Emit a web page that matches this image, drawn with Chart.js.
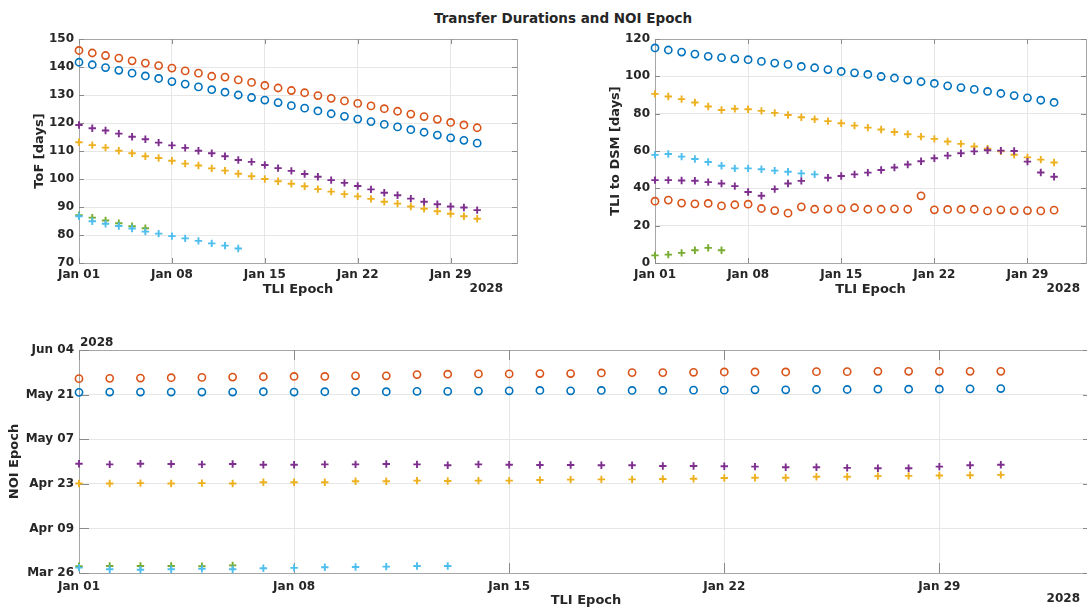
<!DOCTYPE html>
<html>
<head>
<meta charset="utf-8">
<script src="https://cdn.jsdelivr.net/npm/chart.js@4.4.1/dist/chart.umd.min.js"></script>
<style>
  html { overflow: hidden; }
  html, body { margin: 0; padding: 0; background: #fff; }
  body { width: 1120px; height: 608px; position: relative; }
  #titulo { position: absolute; left: 0; top: 10px; width: 1126px; text-align: center; font: bold 13.5px "DejaVu Sans", sans-serif; color: #262626; }
  .caja { position: absolute; }
</style>
</head>
<body>
<div id="titulo">Transfer Durations and NOI Epoch</div>
<div class="caja" style="left:0;top:0"><canvas id="graficoToF" width="530" height="310"></canvas></div>
<div class="caja" style="left:576px;top:0"><canvas id="graficoDSM" width="530" height="310"></canvas></div>
<div class="caja" style="left:0;top:300px"><canvas id="graficoNOI" width="1106" height="310"></canvas></div>
<script>
// TLI epoch, dias desde Jan 01 2028
var diasTLI = [0, 1, 2, 3, 4, 5, 6, 7, 8, 9, 10, 11, 12, 13, 14, 15, 16, 17, 18, 19, 20, 21, 22, 23, 24, 25, 26, 27, 28, 29, 30];
var ticksX = [0, 7, 14, 21, 28];
var etiquetasX = ["Jan 01", "Jan 08", "Jan 15", "Jan 22", "Jan 29"];
var anio = "2028";

// ToF [days]
var ticksToF = [70, 80, 90, 100, 110, 120, 130, 140, 150];
var tofAzul = [141.7, 140.8, 139.8, 138.8, 137.8, 136.8, 135.9, 134.8, 133.9, 132.9, 131.9, 131.0, 130.0, 129.1, 128.2, 127.3, 126.2, 125.3, 124.3, 123.3, 122.4, 121.4, 120.5, 119.5, 118.6, 117.6, 116.7, 115.7, 114.7, 113.8, 112.8];
var tofNaranja = [145.9, 145.0, 144.1, 143.2, 142.2, 141.4, 140.5, 139.6, 138.6, 137.8, 136.7, 136.4, 135.4, 134.5, 133.4, 132.5, 131.6, 130.8, 129.8, 128.8, 127.9, 127.0, 126.1, 125.1, 124.2, 123.2, 122.3, 121.3, 120.2, 119.3, 118.3];
var tofAmarillo = [113.1, 112.1, 111.2, 110.1, 109.2, 108.1, 107.5, 106.5, 105.5, 104.8, 103.8, 103.0, 101.9, 101.0, 100.0, 99.2, 98.3, 97.4, 96.4, 95.5, 94.6, 93.8, 92.9, 91.9, 91.2, 90.2, 89.4, 88.5, 87.6, 86.7, 85.8];
var tofMorado = [119.3, 118.1, 117.3, 116.2, 115.1, 114.2, 113.0, 112.0, 111.1, 110.1, 109.2, 108.1, 106.8, 106.1, 105.0, 103.9, 102.9, 101.8, 100.8, 99.6, 98.6, 97.5, 96.3, 95.1, 94.2, 93.0, 91.9, 91.0, 90.2, 89.8, 88.9];
var tofVerde = [87.1, 86.2, 85.2, 84.2, 83.1, 82.4];
var tofCeleste = [86.7, 84.9, 84.0, 83.2, 82.3, 81.2, 80.5, 79.6, 78.8, 77.9, 77.0, 76.2, 75.2];

// TLI to DSM [days]
var ticksDSM = [0, 20, 40, 60, 80, 100, 120];
var dsmAzul = [115.2, 114.1, 113.0, 111.9, 110.7, 110.0, 109.4, 108.9, 108.0, 107.1, 106.4, 105.3, 104.6, 103.6, 102.6, 101.9, 101.0, 99.9, 99.1, 98.0, 97.1, 96.2, 94.9, 94.0, 93.0, 91.9, 90.8, 89.7, 88.5, 87.2, 86.0];
var dsmNaranja = [33.1, 33.7, 32.1, 31.7, 31.9, 30.6, 31.2, 31.5, 29.2, 28.1, 26.7, 30.1, 28.8, 28.9, 29.0, 29.6, 28.8, 28.8, 29.0, 28.8, 36.0, 28.5, 28.7, 28.7, 28.8, 27.9, 28.5, 28.1, 28.1, 27.9, 28.3];
var dsmAmarillo = [90.6, 89.2, 87.8, 86.0, 83.8, 82.0, 82.6, 82.4, 81.5, 80.4, 79.3, 78.1, 77.0, 76.0, 74.9, 73.6, 72.5, 71.5, 70.2, 69.0, 67.7, 66.5, 65.1, 63.8, 62.4, 61.2, 59.8, 58.0, 56.6, 55.4, 53.8];
var dsmMorado = [44.4, 44.4, 44.2, 44.1, 43.3, 42.6, 41.2, 38.0, 36.0, 39.6, 42.6, 44.0, null, 45.7, 46.6, 47.5, 48.4, 49.8, 51.2, 52.8, 54.5, 56.1, 57.5, 58.8, 59.8, 60.4, 60.2, 60.0, 54.3, 48.5, 46.2];
var dsmVerde = [4.1, 4.5, 5.4, 6.8, 8.1, 6.8];
var dsmCeleste = [57.9, 58.4, 57.0, 55.7, 54.1, 52.1, 50.7, 50.7, 50.2, 49.5, 48.9, 48.0, 47.5];

// NOI epoch, dias desde Jan 01 2028
var ticksNOI = [85, 99, 113, 127, 141, 155];
var etiquetasNOI = ["Mar 26", "Apr 09", "Apr 23", "May 07", "May 21", "Jun 04"];
var noiAzul = [141.7, 141.8, 141.8, 141.8, 141.8, 141.8, 141.9, 141.8, 141.9, 141.9, 141.9, 142.0, 142.0, 142.1, 142.2, 142.3, 142.2, 142.3, 142.3, 142.3, 142.4, 142.4, 142.5, 142.5, 142.6, 142.6, 142.7, 142.7, 142.7, 142.8, 142.9];
var noiNaranja = [146.0, 146.1, 146.2, 146.3, 146.4, 146.5, 146.6, 146.7, 146.7, 146.9, 146.9, 147.3, 147.4, 147.5, 147.5, 147.6, 147.6, 147.8, 147.9, 147.9, 148.0, 148.1, 148.1, 148.1, 148.2, 148.2, 148.3, 148.3, 148.3, 148.3, 148.3];
var noiAmarillo = [113.1, 113.1, 113.2, 113.1, 113.2, 113.1, 113.5, 113.5, 113.5, 113.8, 113.8, 114.0, 113.9, 114.0, 114.0, 114.2, 114.3, 114.4, 114.4, 114.5, 114.6, 114.8, 114.9, 114.9, 115.2, 115.2, 115.4, 115.5, 115.6, 115.7, 115.8];
var noiMorado = [119.3, 119.1, 119.3, 119.2, 119.1, 119.2, 119.0, 119.0, 119.1, 119.1, 119.2, 119.1, 118.8, 119.1, 119.0, 118.9, 118.9, 118.8, 118.8, 118.6, 118.6, 118.5, 118.4, 118.2, 118.2, 118.0, 117.9, 117.9, 118.4, 118.8, 119.0];
var noiVerde = [87.1, 87.2, 87.2, 87.2, 87.1, 87.4];
var noiCeleste = [86.7, 86.2, 86.0, 86.2, 86.3, 86.2, 86.5, 86.6, 86.8, 86.9, 87.0, 87.2, 87.2];

var colores = ["#0072BD", "#D95319", "#EDB120", "#7E2F8E", "#77AC30", "#4DBEEE"];
var fuente = "'DejaVu Sans', sans-serif";
var colorTexto = "#262626";

function serie(valores, indice, circulo) {
  return {
    data: valores.map(function (v, i) { return { x: diasTLI[i], y: v }; }),
    showLine: false,
    clip: false,
    order: 5 - indice, // el ultimo de MATLAB queda encima
    pointStyle: circulo ? "circle" : "cross",
    pointRadius: circulo ? 3.6 : 3.7,
    pointHoverRadius: circulo ? 3.6 : 3.7,
    pointBorderWidth: circulo ? 1.6 : 1.9,
    pointBorderColor: colores[indice],
    pointBackgroundColor: circulo ? "rgba(0,0,0,0)" : colores[indice],
  };
}

// marco, ticks hacia adentro y etiquetas del anio
const marco = {
  id: "marco",
  beforeDatasetsDraw(chart, args, opts) {
    const { ctx, chartArea: a, scales } = chart;
    ctx.save();
    ctx.lineWidth = 1;
    ctx.strokeStyle = "#a6a6a6";
    ctx.strokeRect(Math.round(a.left) + 0.5, Math.round(a.top) + 0.5, Math.round(a.right - a.left), Math.round(a.bottom - a.top));
    ctx.strokeStyle = "#8a8a8a";
    ctx.beginPath();
    scales.x.ticks.forEach(function (t) {
      let px = Math.round(scales.x.getPixelForValue(t.value)) + 0.5;
      ctx.moveTo(px, a.bottom); ctx.lineTo(px, a.bottom - opts.largo);
      ctx.moveTo(px, a.top); ctx.lineTo(px, a.top + opts.largo);
    });
    scales.y.ticks.forEach(function (t) {
      let py = Math.round(scales.y.getPixelForValue(t.value)) + 0.5;
      ctx.moveTo(a.left, py); ctx.lineTo(a.left + opts.largo, py);
      ctx.moveTo(a.right, py); ctx.lineTo(a.right - opts.largo, py);
    });
    ctx.stroke();
    ctx.fillStyle = colorTexto;
    ctx.font = "bold 12px " + fuente;
    ctx.textBaseline = "middle";
    ctx.textAlign = "right";
    ctx.fillText(anio, opts.anioX, a.bottom + 26);
    if (opts.anioArriba) {
      ctx.textAlign = "left";
      ctx.fillText(anio, a.left + 1, a.top - 7);
    }
    ctx.restore();
  },
};

function ejeX(maxDia, altoEje, padTicks, padTitulo) {
  return {
    type: "linear",
    min: 0,
    max: maxDia,
    afterBuildTicks: function (eje) { eje.ticks = ticksX.map(function (v) { return { value: v }; }); },
    afterFit: function (eje) { eje.height = altoEje; },
    ticks: {
      autoSkip: false, maxRotation: 0, padding: padTicks, color: colorTexto,
      font: { family: fuente, size: 12, weight: "bold" },
      callback: function (valor, i) { return etiquetasX[i]; },
    },
    grid: { color: "#e6e6e6", drawTicks: false },
    border: { display: false },
    title: { display: true, text: "TLI Epoch", color: colorTexto, font: { family: fuente, size: 13, weight: "bold" }, padding: { top: 0, bottom: padTitulo } },
  };
}

function ejeY(min, max, ticks, etiquetas, titulo, padTitulo) {
  return {
    type: "linear",
    min: min,
    max: max,
    afterBuildTicks: function (eje) { eje.ticks = ticks.map(function (v) { return { value: v }; }); },
    afterFit: function (eje) { eje.width = 79; },
    ticks: {
      autoSkip: false, padding: 5, color: colorTexto,
      font: { family: fuente, size: 12, weight: "bold" },
      callback: function (valor, i) { return etiquetas[i]; },
    },
    grid: { color: "#e6e6e6", drawTicks: false },
    border: { display: false },
    title: { display: true, text: titulo, color: colorTexto, font: { family: fuente, size: 13, weight: "bold" }, padding: { top: padTitulo, bottom: 0 } },
  };
}

function crearGrafico(id, series, ejes, padArriba, padDerecha, opcionesMarco) {
  return new Chart(document.getElementById(id), {
    type: "scatter",
    data: { datasets: series },
    options: {
      responsive: false,
      animation: false,
      devicePixelRatio: 1,
      layout: { padding: { top: padArriba, right: padDerecha, left: 0, bottom: 0 } },
      plugins: { legend: { display: false }, tooltip: { enabled: false }, marco: opcionesMarco },
      scales: ejes,
    },
    plugins: [marco],
  });
}

window.onload = function () {
  crearGrafico("graficoToF", [
    serie(tofAzul, 0, true), serie(tofNaranja, 1, true), serie(tofAmarillo, 2, false),
    serie(tofMorado, 3, false), serie(tofVerde, 4, false), serie(tofCeleste, 5, false),
  ], { x: ejeX(33, 47, 5, 13), y: ejeY(70, 150, ticksToF, ticksToF, "ToF [days]", 32) }, 39, 13, { largo: 5, anioArriba: false, anioX: 503 });

  crearGrafico("graficoDSM", [
    serie(dsmAzul, 0, true), serie(dsmNaranja, 1, true), serie(dsmAmarillo, 2, false),
    serie(dsmMorado, 3, false), serie(dsmVerde, 4, false), serie(dsmCeleste, 5, false),
  ], { x: ejeX(32.4, 47, 5, 13), y: ejeY(0, 120, ticksDSM, ticksDSM, "TLI to DSM [days]", 32) }, 39, 20, { largo: 5, anioArriba: false, anioX: 504 });

  crearGrafico("graficoNOI", [
    serie(noiAzul, 0, true), serie(noiNaranja, 1, true), serie(noiAmarillo, 2, false),
    serie(noiMorado, 3, false), serie(noiVerde, 4, false), serie(noiCeleste, 5, false),
  ], { x: ejeX(33, 37, 7, 2), y: ejeY(85, 155, ticksNOI, etiquetasNOI, "NOI Epoch", 7) }, 50, 13, { largo: 10, anioArriba: true, anioX: 1080 });
};
</script>
</body>
</html>
